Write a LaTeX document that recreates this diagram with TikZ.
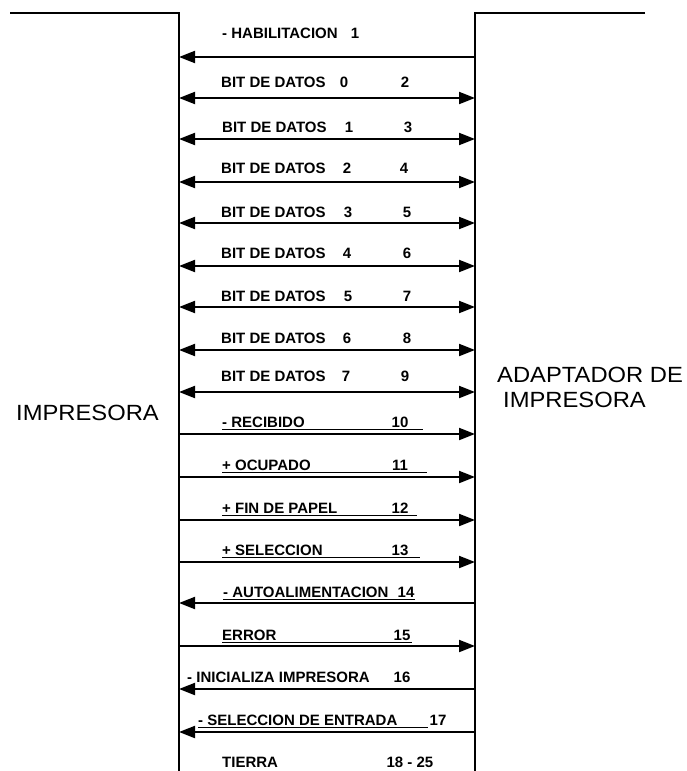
\documentclass[tikz,border=0pt]{standalone}
\usepackage{fontspec}
\setmainfont{Liberation Sans}[FakeStretch=1.08]
\newfontfamily\pinfont{Liberation Sans}[FakeStretch=1.0]
\usetikzlibrary{arrows.meta,calc}

\begin{document}
\begin{tikzpicture}[x=1pt,y=-1pt,
  wire/.style={line width=2pt},
  sig/.style={line width=2pt,-{Triangle[length=16pt,width=12pt]}},
  bidir/.style={line width=2pt,{Triangle[length=16pt,width=12pt]}-{Triangle[length=16pt,width=12pt]}},
  uline/.style={line width=0.9pt},
  lbl/.style={anchor=west,inner sep=0pt,font=\pinfont\fontsize{15}{17}\selectfont\bfseries},
  pin/.style={inner sep=0pt,font=\pinfont\fontsize{15}{17}\selectfont\bfseries},
  side/.style={anchor=west,inner sep=0pt,font=\fontsize{22}{25}\selectfont}]
  \useasboundingbox (0,0) rectangle (686,771);

  \coordinate (ltl) at (10,13);
  \coordinate (ltop) at (179,13);
  \coordinate (lbot) at (179,771);
  \coordinate (rtop) at (475,13);
  \coordinate (rtr) at (645,13);
  \coordinate (rbot) at (475,771);
  \draw[wire] (ltl) -- (ltop) -- (lbot);
  \draw[wire] (rtr) -- (rtop) -- (rbot);

  \foreach \i/\y in {1/57,2/98,3/139,4/182,5/223,6/266,7/307,8/350,9/392,
                     10/434,11/477,12/520,13/562,14/603,15/646,16/689,17/732} {
    \coordinate (L\i) at (179,\y);
    \coordinate (R\i) at (475,\y);
  }

  \node[side] (printer) at (16,413) {IMPRESORA};
  \node[side] (adapt1) at (497,375) {ADAPTADOR DE};
  \node[side] (adapt2) at (503,400) {IMPRESORA};

  \draw[sig] (R1) -- (L1);
  \node[lbl] (t1) at (222,33) {- HABILITACION};
  \node[pin] (p1) at (355,33) {1};

  \draw[bidir] (L2) -- (R2);
  \node[lbl] (t2) at (221,82) {BIT DE DATOS};
  \node[pin] (b2) at (344,82) {0};
  \node[pin] (p2) at (405,82) {2};

  \draw[bidir] (L3) -- (R3);
  \node[lbl] (t3) at (222,127) {BIT DE DATOS};
  \node[pin] (b3) at (349,127) {1};
  \node[pin] (p3) at (408,127) {3};

  \draw[bidir] (L4) -- (R4);
  \node[lbl] (t4) at (221,168) {BIT DE DATOS};
  \node[pin] (b4) at (347,168) {2};
  \node[pin] (p4) at (404,168) {4};

  \draw[bidir] (L5) -- (R5);
  \node[lbl] (t5) at (221,212) {BIT DE DATOS};
  \node[pin] (b5) at (348,212) {3};
  \node[pin] (p5) at (407,212) {5};

  \draw[bidir] (L6) -- (R6);
  \node[lbl] (t6) at (221,253) {BIT DE DATOS};
  \node[pin] (b6) at (347,253) {4};
  \node[pin] (p6) at (407,253) {6};

  \draw[bidir] (L7) -- (R7);
  \node[lbl] (t7) at (221,296) {BIT DE DATOS};
  \node[pin] (b7) at (348,296) {5};
  \node[pin] (p7) at (407,296) {7};

  \draw[bidir] (L8) -- (R8);
  \node[lbl] (t8) at (221,338) {BIT DE DATOS};
  \node[pin] (b8) at (347,338) {6};
  \node[pin] (p8) at (407,338) {8};

  \draw[bidir] (L9) -- (R9);
  \node[lbl] (t9) at (221,376) {BIT DE DATOS};
  \node[pin] (b9) at (346,376) {7};
  \node[pin] (p9) at (405,376) {9};

  \draw[sig] (L10) -- (R10);
  \node[lbl] (t10) at (222,422) {- RECIBIDO};
  \node[pin] (p10) at (400,422) {10};
  \draw[uline] ($(t10.west |- L10)+(0,-5)$) -- ++(201,0);

  \draw[sig] (L11) -- (R11);
  \node[lbl] (t11) at (222,465) {+ OCUPADO};
  \node[pin] (p11) at (400,465) {11};
  \draw[uline] ($(t11.west |- L11)+(0,-5)$) -- ++(205,0);

  \draw[sig] (L12) -- (R12);
  \node[lbl] (t12) at (222,508) {+ FIN DE PAPEL};
  \node[pin] (p12) at (400,508) {12};
  \draw[uline] ($(t12.west |- L12)+(0,-5)$) -- ++(195,0);

  \draw[sig] (L13) -- (R13);
  \node[lbl] (t13) at (222,550) {+ SELECCION};
  \node[pin] (p13) at (400,550) {13};
  \draw[uline] ($(t13.west |- L13)+(0,-5)$) -- ++(198,0);

  \draw[sig] (R14) -- (L14);
  \node[lbl] (t14) at (223,592) {- AUTOALIMENTACION};
  \node[pin] (p14) at (406,592) {14};
  \draw[uline] ($(t14.west |- L14)+(0,-4)$) -- ++(192,0);

  \draw[sig] (L15) -- (R15);
  \node[lbl] (t15) at (222,635) {ERROR};
  \node[pin] (p15) at (402,635) {15};
  \draw[uline] ($(t15.west |- L15)+(0,-4)$) -- ++(190,0);

  \draw[sig] (R16) -- (L16);
  \node[lbl] (t16) at (187,677) {- INICIALIZA IMPRESORA};
  \node[pin] (p16) at (402,677) {16};

  \draw[sig] (R17) -- (L17);
  \node[lbl] (t17) at (198,720) {- SELECCION DE ENTRADA};
  \node[pin] (p17) at (438,720) {17};
  \draw[uline] ($(t17.west |- L17)+(0,-5)$) -- ++(230,0);

  \node[lbl] (t18) at (222,762) {TIERRA};
  \node[pin] (p18) at (410,762) {18 - 25};
\end{tikzpicture}
\end{document}
